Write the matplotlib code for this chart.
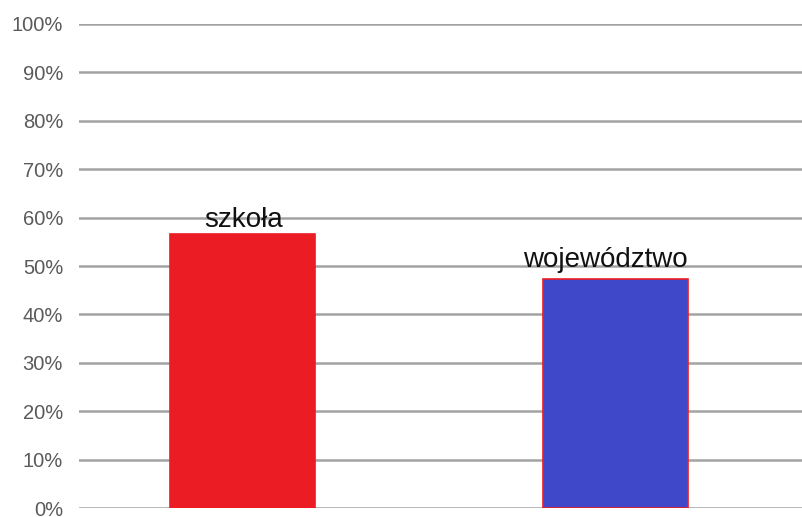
import matplotlib
matplotlib.use("Agg")
import matplotlib.pyplot as plt
from matplotlib.ticker import FuncFormatter

plt.rcParams['font.family'] = ['Liberation Sans', 'DejaVu Sans']

categories = ["szkoła", "województwo"]
values = [56.6, 47.3]
colors = ["#EC1C24", "#3F48C8"]
edgecolors = ["#EC1C24", "#EC1C24"]
yticks = list(range(0, 101, 10))

fig = plt.figure(figsize=(8.02, 5.17), dpi=100)
ax = fig.add_axes([79/802, 9/517, 1 - 79/802, (508-24)/517])

x = list(range(len(categories)))
ax.bar(x, values, width=0.39, color=colors, edgecolor=edgecolors, linewidth=1.2, zorder=3)

offsets = [(1, 5), (-7.5, 9)]
for xi, v, lab, off in zip(x, values, categories, offsets):
    ax.annotate(lab, (xi, v), xytext=off, textcoords="offset points",
                ha="center", va="baseline", fontsize=20, color="#111111", zorder=4)

ax.set_ylim(0, 100)
ax.set_xlim(-0.438, 1.5)
ax.set_yticks(yticks)
ax.yaxis.set_major_formatter(FuncFormatter(lambda v, p: f"{int(v)}%"))
ax.set_xticks([])
ax.tick_params(axis="y", length=0, pad=11.5, labelsize=14.5, labelcolor="#5a5a5a")
for s in ax.spines.values():
    s.set_visible(False)
ax.yaxis.grid(True, color="#a3a3a3", linewidth=1.8, zorder=0)
ax.set_axisbelow(True)

fig.savefig("out.png", dpi=100)
